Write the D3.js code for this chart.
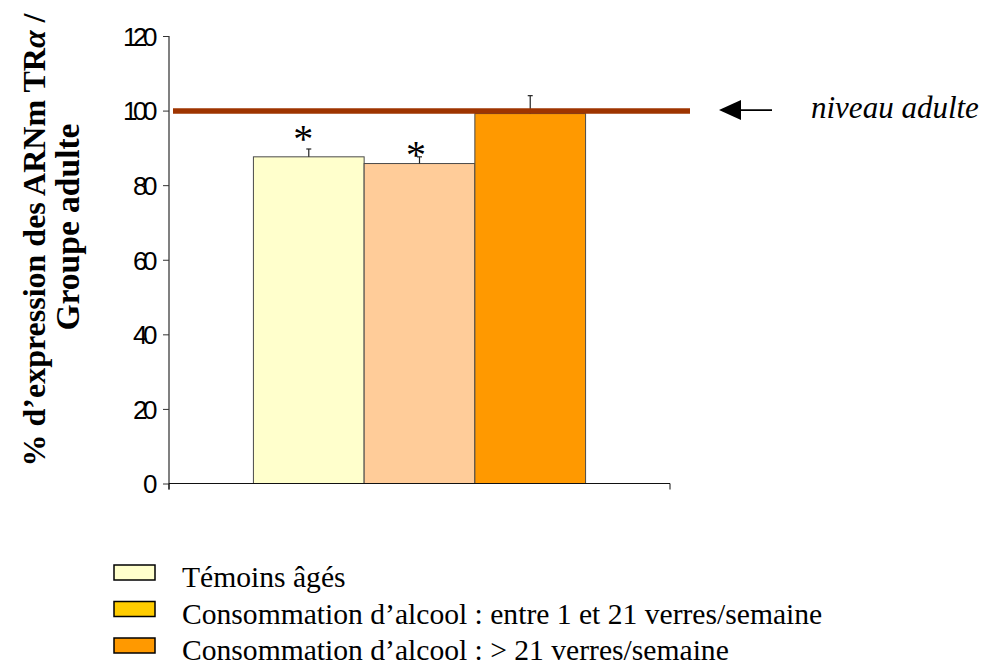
<!DOCTYPE html>
<html>
<head>
<meta charset="utf-8">
<script src="https://cdn.jsdelivr.net/npm/d3@7"></script>
<style>
  html, body { margin: 0; padding: 0; background: #fff; }
  svg { display: block; }
</style>
</head>
<body>
<svg id="chart" width="995" height="666"></svg>
<script>
// Series: mean expression (% of adult group) with upper SEM
const series = ["Témoins âgés",
                "Consommation d’alcool : entre 1 et 21 verres/semaine",
                "Consommation d’alcool : > 21 verres/semaine"];
const values = [87.6, 85.8, 99.2];
const errors = [2.1, 1.8, 4.8];
const significant = [true, true, false];
const barColors = ["#FFFFCC", "#FFCC99", "#FF9900"];
const legendColors = ["#FFFFCC", "#FFCC00", "#FF9900"];
const yTicks = [0, 20, 40, 60, 80, 100, 120];
const adultLevel = 100;

const svg = d3.select("#chart");

const x0 = 169, x1 = 670, yTop = 36, yBottom = 483.5;

const y = d3.scaleLinear().domain([0, 120]).range([yBottom, yTop]);

// one category band, split into three series bands
const xGroup = d3.scaleBand().domain(["groupe"]).range([x0, x1])
  .paddingInner(0.337).paddingOuter(0.1685);
const xSeries = d3.scaleBand().domain(d3.range(series.length))
  .range([xGroup("groupe"), xGroup("groupe") + xGroup.bandwidth()]);

// Bars
svg.append("g").selectAll("rect").data(values).join("rect")
  .attr("x", (d, i) => xSeries(i))
  .attr("y", d => y(d))
  .attr("width", xSeries.bandwidth())
  .attr("height", d => y(0) - y(d))
  .attr("fill", (d, i) => barColors[i])
  .attr("stroke", "#4a4a4a")
  .attr("stroke-width", 1);

// Upper error bars
const eb = svg.append("g").attr("stroke", "#222").attr("stroke-width", 1.2);
values.forEach((v, i) => {
  const cx = xSeries(i) + xSeries.bandwidth() / 2;
  eb.append("line").attr("x1", cx).attr("x2", cx)
    .attr("y1", y(v)).attr("y2", y(v + errors[i]));
  eb.append("line").attr("x1", cx - 2.5).attr("x2", cx + 2.5)
    .attr("y1", y(v + errors[i])).attr("y2", y(v + errors[i]));
});

// Significance asterisks, set just left of each error cap
const starShift = [{dx: -5.5, dy: 3}, {dx: -3.5, dy: 11}];
svg.append("g").selectAll("text")
  .data(values.map((v, i) => ({v, i})).filter(d => significant[d.i]))
  .join("text")
  .attr("x", d => xSeries(d.i) + xSeries.bandwidth() / 2 + starShift[d.i].dx)
  .attr("y", d => y(d.v + errors[d.i]) + starShift[d.i].dy)
  .attr("text-anchor", "middle")
  .attr("font-family", "Liberation Serif, serif")
  .attr("font-size", 40)
  .attr("fill", "#000")
  .text("*");

// Y axis
const yAxis = svg.append("g")
  .attr("transform", `translate(${x0},0)`)
  .call(d3.axisLeft(y).tickValues(yTicks).tickSize(6).tickPadding(10));
yAxis.select(".domain").attr("stroke", "#808080").attr("stroke-width", 2)
  .attr("d", `M0,${yTop}V${yBottom + 6}`);
yAxis.selectAll(".tick line").attr("stroke", "#333");
yAxis.selectAll(".tick text")
  .attr("font-family", "Liberation Sans, Arial, sans-serif")
  .attr("font-size", 26)
  .attr("letter-spacing", "-4.5px")
  .attr("fill", "#000")
  .attr("dy", "0.36em");

// X axis (single category, ticks at the edges)
const xAxis = svg.append("g").attr("transform", `translate(0,${yBottom})`);
xAxis.append("line").attr("x1", x0).attr("x2", x1).attr("y1", 0).attr("y2", 0)
  .attr("stroke", "#111").attr("stroke-width", 1.2);
xAxis.selectAll("line.t").data([x0, x1]).join("line").attr("class", "t")
  .attr("x1", d => d).attr("x2", d => d).attr("y1", 0).attr("y2", 6)
  .attr("stroke", "#111");

// Adult reference level
svg.append("line")
  .attr("x1", x0 + 4).attr("x2", 690)
  .attr("y1", y(adultLevel) + 0.5).attr("y2", y(adultLevel) + 0.5)
  .attr("stroke", "#9E3400").attr("stroke-width", 5.5);

// Arrow and label
const ay = y(adultLevel) - 0.5;
svg.append("line").attr("x1", 738).attr("x2", 772).attr("y1", ay).attr("y2", ay)
  .attr("stroke", "#000").attr("stroke-width", 1.6);
svg.append("path")
  .attr("d", `M719,${ay}L741,${ay - 10}L741,${ay + 10}Z`)
  .attr("fill", "#000");
svg.append("text")
  .attr("x", 811).attr("y", ay + 8)
  .attr("font-family", "Liberation Serif, serif")
  .attr("font-style", "italic")
  .attr("font-size", 31)
  .text("niveau adulte");

// Y axis title (two lines, rotated)
const title = svg.append("text")
  .attr("transform", "rotate(-90)")
  .attr("text-anchor", "middle")
  .attr("font-family", "Liberation Serif, serif")
  .attr("font-weight", "bold")
  .attr("font-size", 32);
const l1 = title.append("tspan").attr("x", -240).attr("y", 45);
l1.append("tspan").text("% d’expression des ARNm TR");
l1.append("tspan").attr("font-style", "italic").text("α");
l1.append("tspan").text(" /");
title.append("tspan").attr("x", -227).attr("y", 79)
  .attr("font-size", 33.5).text("Groupe adulte");

// Legend
const legend = svg.append("g");
const rows = legend.selectAll("g").data(series).join("g")
  .attr("transform", (d, i) => `translate(114,${565 + i * 36.5})`);
rows.append("rect")
  .attr("width", 41).attr("height", 15)
  .attr("fill", (d, i) => legendColors[i])
  .attr("stroke", "#000").attr("stroke-width", 1.5);
rows.append("text")
  .attr("x", 68).attr("y", 22)
  .attr("font-family", "Liberation Serif, serif")
  .attr("font-size", 29.6)
  .text(d => d);
</script>
</body>
</html>
